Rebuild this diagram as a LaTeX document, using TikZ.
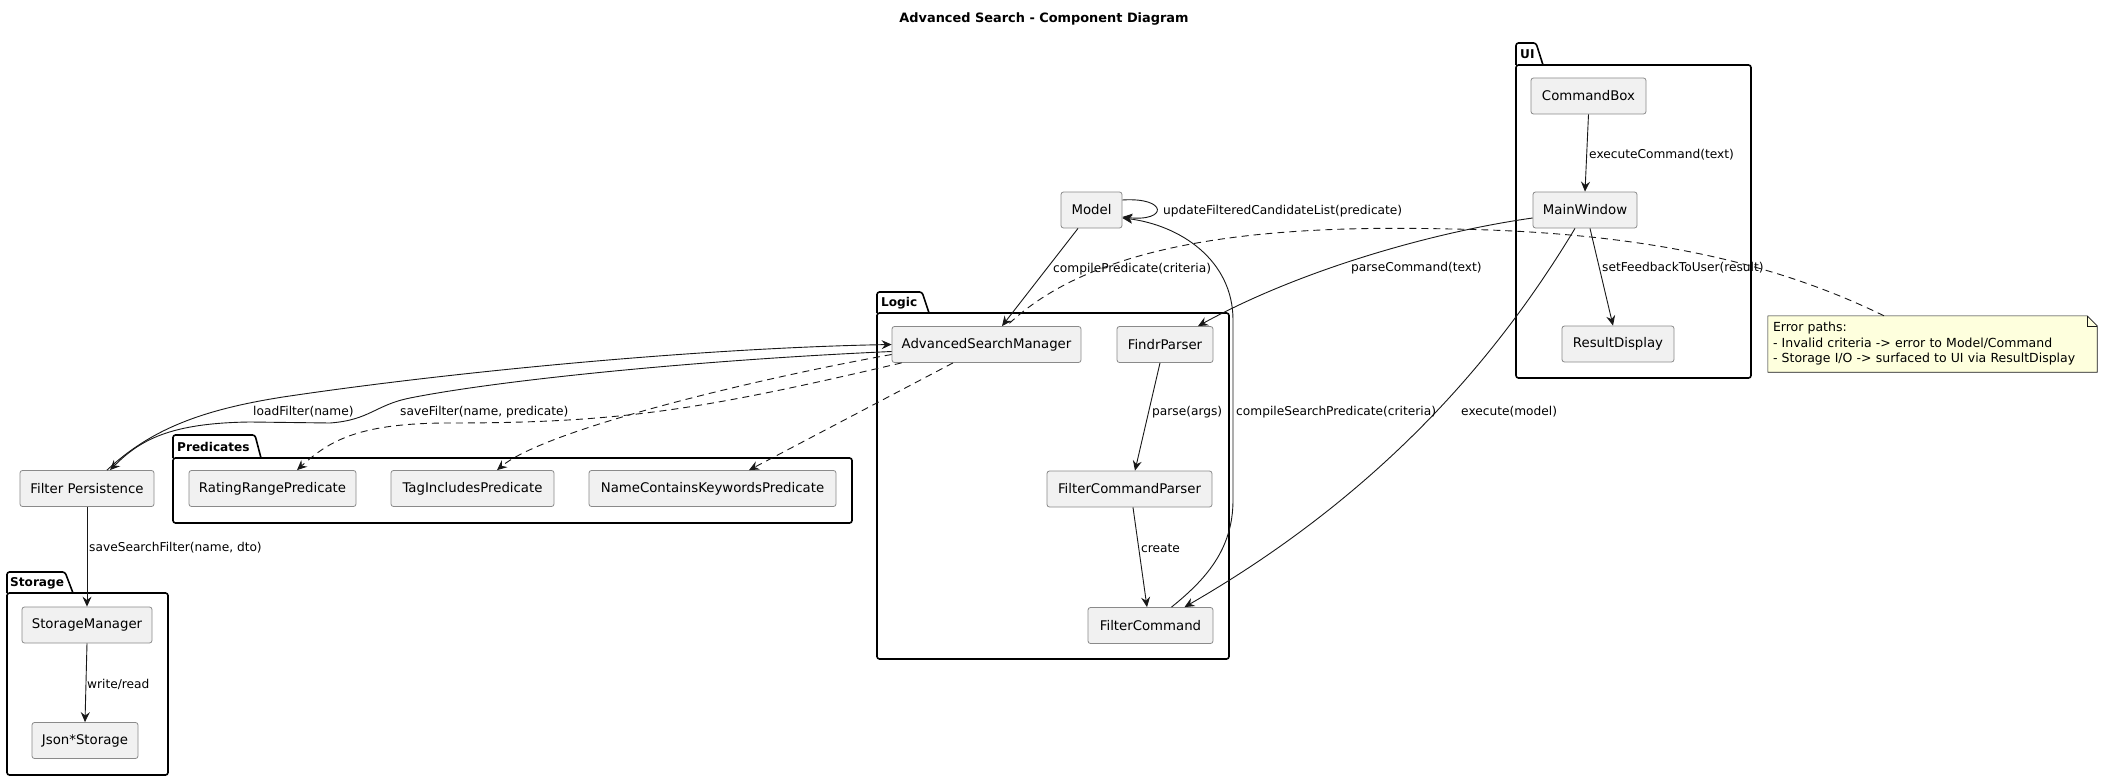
\documentclass[tikz,border=0pt]{standalone}
\usepackage{fontspec}
\setmainfont{DejaVu Sans}
\usetikzlibrary{arrows.meta,calc}
\definecolor{boxfill}{HTML}{F1F1F1}
\definecolor{boxline}{HTML}{8A8A8A}
\definecolor{ink}{HTML}{181818}
\definecolor{notefill}{HTML}{FEFFDD}
\pgfdeclarelayer{bg}
\pgfsetlayers{bg,main}

\begin{document}
\begin{tikzpicture}[x=1pt,y=-1pt,
  comp/.style={draw=boxline, fill=boxfill, line width=0.8pt, rounded corners=2.5pt,
    minimum height=36pt, inner sep=0pt, font=\fontsize{13.3}{15}\selectfont},
  pkg/.style={draw=black, line width=1.6pt, rounded corners=2.5pt},
  pkglabel/.style={anchor=west, inner sep=0pt, font=\bfseries\fontsize{12.1}{14}\selectfont},
  elabel/.style={anchor=west, inner sep=0pt, font=\fontsize{12.2}{14}\selectfont},
  link/.style={draw=ink, line width=0.9pt},
  arr/.style={link, -{Stealth[length=10pt,width=9pt,inset=3.5pt]}},
  dep/.style={arr, dash pattern=on 7pt off 5pt},
  notebox/.style={minimum width=329pt, minimum height=56pt, text width=319pt, align=left,
    inner sep=5pt, font=\fontsize{12.5}{15.5}\selectfont},
]
\useasboundingbox (0,0) rectangle (2102,781);
\begin{pgfonlayer}{bg}
  \fill[white] (0,0) rectangle (2102,781);
\end{pgfonlayer}

% title
\node[font=\bfseries\fontsize{12.9}{15}\selectfont] (title) at (1044,19) {Advanced Search - Component Diagram};

% packages
\draw[pkg] (1516,65) -- (1516,43) -- (1536,43) -- (1543,65);
\draw[pkg] (1516,65) rectangle (1751,378);
\node[pkglabel] (uilbl) at (1520,54) {UI};

\draw[pkg] (877,313) -- (877,292) -- (922,292) -- (929,313);
\draw[pkg] (877,313) rectangle (1229,659);
\node[pkglabel] (logiclbl) at (881,303) {Logic};

\draw[pkg] (173,458) -- (173,435) -- (255,435) -- (261,458);
\draw[pkg] (173,458) rectangle (852,523);
\node[pkglabel] (predlbl) at (177,447) {Predicates};

\draw[pkg] (7,593) -- (7,572) -- (65,572) -- (73,593);
\draw[pkg] (7,593) rectangle (168,775);
\node[pkglabel] (storlbl) at (10,583) {Storage};

% components
\node[comp, minimum width=115pt] (cmdbox) at (1588.5,96) {CommandBox};
\node[comp, minimum width=104pt] (mainwin) at (1585,210) {MainWindow};
\node[comp, minimum width=112pt] (result) at (1618,344) {ResultDisplay};
\node[comp, minimum width=61pt] (model) at (1091.5,210) {Model};
\node[comp, minimum width=189pt] (asm) at (986.5,344.5) {AdvancedSearchManager};
\node[comp, minimum width=96pt] (findr) at (1165,344.5) {FindrParser};
\node[comp, minimum width=165pt] (fcp) at (1129.5,489) {FilterCommandParser};
\node[comp, minimum width=125pt] (fc) at (1150.5,625.5) {FilterCommand};
\node[comp, minimum width=134pt] (fp) at (87,488.5) {Filter Persistence};
\node[comp, minimum width=167pt] (rrp) at (272.5,488.5) {RatingRangePredicate};
\node[comp, minimum width=163pt] (tip) at (472.5,488.5) {TagIncludesPredicate};
\node[comp, minimum width=247pt] (nckp) at (712.5,488.5) {NameContainsKeywordsPredicate};
\node[comp, minimum width=130pt] (sm) at (87,625) {StorageManager};
\node[comp, minimum width=106pt] (js) at (85,740.5) {Json*Storage};

% note
\node[notebox] (note) at (1932.5,344) {Error paths:\\- Invalid criteria -> error to Model/Command\\- Storage I/O -> surfaced to UI via ResultDisplay};
\begin{pgfonlayer}{bg}
  \filldraw[fill=notefill, draw=ink, line width=0.6pt]
    (note.north west) -- ([xshift=-10pt]note.north east) -- ([yshift=-10pt]note.north east)
    -- (note.south east) -- (note.south west) -- cycle;
  \draw[ink, line width=0.6pt] ([xshift=-10pt]note.north east) -- ([xshift=-10pt,yshift=-10pt]note.north east)
    -- ([yshift=-10pt]note.north east);
\end{pgfonlayer}

% UI flow
\draw[arr] (cmdbox.south) -- (mainwin.north);
\node[elabel] (l1) at (1589,155) {executeCommand(text)};
\draw[arr] ([xshift=5pt]mainwin.south) -- ([xshift=-5pt]result.north);
\node[elabel] (l2) at (1602,268) {setFeedbackToUser(result)};
\draw[arr] ([yshift=-8pt]mainwin.west) .. controls (1433,232) and (1300,270) .. ([xshift=33pt]findr.north);
\node[elabel] (l3) at (1351,268) {parseCommand(text)};
\draw[arr] ([xshift=-10pt]mainwin.south) .. controls (1490,370) and (1370,500) .. ([xshift=34pt]fc.north);
\node[elabel] (l4) at (1461,412) {execute(model)};

% logic flow
\draw[arr] ([xshift=-5pt]findr.south) -- ([xshift=5.5pt]fcp.north);
\node[elabel] (l5) at (1152,412) {parse(args)};
\draw[arr] ([xshift=3.5pt]fcp.south) -- ([xshift=-3.5pt]fc.north);
\node[elabel] (l6) at (1141,548) {create};
\draw[arr] ([xshift=21pt]fc.north) .. controls (1205,580) and (1233,550) .. (1233,500)
  -- (1233,320) .. controls (1233,260) and (1180,225) .. ([yshift=-8pt]model.east);
\node[elabel] (l7) at (1236,412) {compileSearchPredicate(criteria)};
\draw[arr] ([yshift=10pt]model.east) .. controls (1168,197) and (1168,222) .. ([yshift=-7pt]model.east);
\node[elabel] (l8) at (1163,211) {updateFilteredCandidateList(predicate)};
\draw[arr] ([xshift=-13.5pt]model.south) -- ([xshift=15.5pt]asm.north);
\node[elabel] (l9) at (1053,269) {compilePredicate(criteria)};

% note link
\draw[link, dash pattern=on 7pt off 5pt] ([xshift=-48.5pt]note.north)
  .. controls (1780,265) and (1650,232) .. (1450,229)
  .. controls (1250,224) and (1090,245) .. ([xshift=20pt]asm.north);

% persistence
\draw[arr] ([xshift=20pt]fp.north) .. controls (150,430) and (200,410) .. (283,397)
  .. controls (450,372) and (700,348) .. (asm.west);
\draw[arr] ([yshift=-7pt]asm.west) .. controls (700,360) and (500,380) .. (410,398)
  .. controls (375,405) and (370,420) .. (330,423) -- (250,422)
  .. controls (170,423) and (140,440) .. ([xshift=23pt]fp.north);
\node[elabel] (l10) at (253,412) {loadFilter(name)};
\node[elabel] (l11) at (400,412) {saveFilter(name, predicate)};

% predicates
\draw[dep] ([yshift=-10pt]asm.west) .. controls (750,380) and (545,430) .. ([xshift=24.5pt]tip.north);
\draw[dep] ([xshift=10pt]asm.south west) .. controls (700,410) and (620,423) .. (450,423)
  .. controls (360,423) and (330,440) .. ([xshift=24.5pt]rrp.north);
\draw[dep] ([xshift=-33.5pt]asm.south) -- ([xshift=36.5pt]nckp.north);

% storage
\draw[arr] (fp.south) -- (sm.north);
\node[elabel] (l12) at (89,548) {saveSearchFilter(name, dto)};
\draw[arr] (sm.south) -- (js.north);
\node[elabel] (l13) at (87,684) {write/read};
\end{tikzpicture}
\end{document}
